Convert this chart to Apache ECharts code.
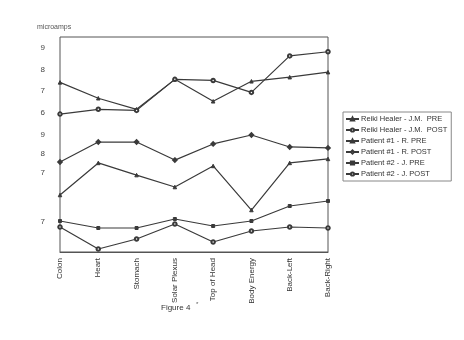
<!DOCTYPE html>
<html>
<head>
<meta charset="utf-8">
<script src="https://cdn.jsdelivr.net/npm/echarts@6/dist/echarts.min.js"></script>
<style>
  html, body { margin: 0; padding: 0; background: #fff; }
  #chart { width: 464px; height: 340px; }
</style>
</head>
<body>
<div id="chart"></div>
<script>
// microamps
const sites = ['Colon', 'Heart', 'Stomach', 'Solar Plexus', 'Top of Head', 'Body Energy', 'Back-Left', 'Back-Right'];

const reikiPre = [7.41, 6.68, 6.17, 7.55, 6.54, 7.46, 7.65, 7.88];
const reikiPost = [5.95, 6.17, 6.12, 7.55, 7.50, 6.95, 8.63, 8.82];
const patient1Pre = [5.84, 7.53, 6.89, 6.26, 7.37, 5.05, 7.53, 7.74];
const patient1Post = [7.58, 8.63, 8.63, 7.68, 8.53, 9.00, 8.37, 8.32];
const patient2Pre = [7.05, 6.70, 6.70, 7.15, 6.80, 7.05, 7.80, 8.05];
const patient2Post = [6.75, 5.65, 6.15, 6.90, 6.00, 6.55, 6.75, 6.70];

// each group has its own broken-off scale on the left
const reikiTicks = [6, 7, 8, 9];
const patient1Ticks = [7, 8, 9];
const patient2Ticks = [7];

const lineColor = '#3a3a3a';
const font = 'Liberation Sans, Arial, sans-serif';

const chart = echarts.init(document.getElementById('chart'));

function groupAxis(min, max, ticks) {
    return {
        type: 'value',
        position: 'left',
        min: min,
        max: max,
        axisLine: { show: false },
        axisTick: { show: false },
        splitLine: { show: false },
        axisLabel: {
            customValues: ticks,
            margin: 15,
            color: '#444',
            fontSize: 8,
            fontFamily: font
        }
    };
}

function makeSeries(name, data, axisIndex, symbol, size) {
    return {
        name: name,
        type: 'line',
        yAxisIndex: axisIndex,
        data: data,
        symbol: symbol,
        symbolSize: size,
        lineStyle: { width: 1.2, color: lineColor },
        itemStyle: { color: lineColor, borderColor: lineColor, borderWidth: 1 },
        emphasis: { disabled: true }
    };
}

chart.setOption({
    backgroundColor: '#fff',
    animation: false,
    grid: {
        left: 60,
        right: 136,
        top: 37,
        bottom: 88,
        show: true,
        borderColor: '#555',
        borderWidth: 1
    },
    graphic: [
        {
            type: 'text',
            left: 37,
            top: 24,
            style: { text: 'microamps', fontSize: 7, fill: '#555', fontFamily: font }
        },
        {
            type: 'text',
            left: 161,
            top: 304,
            style: { text: 'Figure 4', fontSize: 8, fill: '#333', fontFamily: font }
        },
        {
            type: 'text',
            left: 196,
            top: 301,
            style: { text: '*', fontSize: 6, fill: '#555', fontFamily: font }
        }
    ],
    legend: {
        orient: 'vertical',
        left: 343,
        top: 112,
        padding: [3, 4, 3, 2],
        itemGap: 3,
        itemWidth: 13,
        itemHeight: 4,
        borderColor: '#888',
        borderWidth: 1,
        textStyle: { fontSize: 7.5, color: '#333', fontFamily: font, padding: [0, 0, 0, -3] },
        data: [
            'Reiki Healer - J.M.  PRE',
            'Reiki Healer - J.M.  POST',
            'Patient #1 - R. PRE',
            'Patient #1 - R. POST',
            'Patient #2 - J. PRE',
            'Patient #2 - J. POST'
        ]
    },
    xAxis: {
        type: 'category',
        data: sites,
        boundaryGap: false,
        axisLine: { onZero: false, lineStyle: { color: '#555' } },
        axisTick: { show: false },
        axisLabel: {
            rotate: 90,
            interval: 0,
            margin: 6,
            fontSize: 8,
            color: '#333',
            fontFamily: font
        }
    },
    yAxis: [
        groupAxis(-0.4, 9.5, reikiTicks),
        groupAxis(2.84, 14.16, patient1Ticks),
        groupAxis(5.5, 16.25, patient2Ticks)
    ],
    series: [
        makeSeries('Reiki Healer - J.M.  PRE', reikiPre, 0, 'triangle', 3.5),
        makeSeries('Reiki Healer - J.M.  POST', reikiPost, 0, 'emptyCircle', 3.5),
        makeSeries('Patient #1 - R. PRE', patient1Pre, 1, 'triangle', 3.5),
        makeSeries('Patient #1 - R. POST', patient1Post, 1, 'emptyDiamond', 3.5),
        makeSeries('Patient #2 - J. PRE', patient2Pre, 2, 'rect', 3),
        makeSeries('Patient #2 - J. POST', patient2Post, 2, 'emptyCircle', 3.5)
    ]
});
</script>
</body>
</html>
